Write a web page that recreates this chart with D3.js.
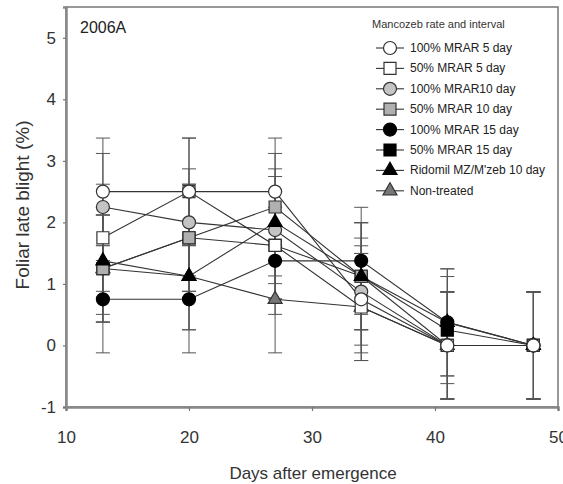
<!DOCTYPE html>
<html><head><meta charset="utf-8">
<script src="https://cdn.jsdelivr.net/npm/d3@7"></script>
<style>body{margin:0;background:#fff}svg{display:block}text{font-family:"Liberation Sans",Arial,sans-serif}</style>
</head><body><svg id="c" width="563" height="484"></svg>
<script>
// ---- data ----
const days = [13, 20, 27, 34, 41, 48];
const seriesNames = ["100% MRAR 5 day", "50% MRAR 5 day", "100% MRAR10 day", "50% MRAR 10 day",
  "100% MRAR 15 day", "50% MRAR 15 day", "Ridomil MZ/M'zeb 10 day", "Non-treated"];
const mrar100d5  = [2.5, 2.5, 2.5, 0.75, 0, 0];
const mrar50d5   = [1.75, 2.5, 1.625, 0.625, 0, 0];
const mrar100d10 = [2.25, 2.0, 1.875, 0.875, 0, 0];
const mrar50d10  = [1.25, 1.75, 2.25, 1.125, 0, 0];
const mrar100d15 = [0.75, 0.75, 1.375, 1.375, 0.375, 0];
const mrar50d15  = [1.25, 1.75, 1.625, 1.125, 0.25, 0];
const ridomil    = [1.375, 1.125, 2.0, 1.125, 0.375, 0];
const nonTreated = [1.25, 1.125, 0.75, 0.625, 0, 0];
const errHalf    = [0.87, 0.87, 0.87, 0.87, 0.87, 0.87];
const yTicks = [-1, 0, 1, 2, 3, 4, 5];
const xTicks = [10, 20, 30, 40, 50];
const legendTitle = "Mancozeb rate and interval";
const panelLabel = "2006A";
const xLabel = "Days after emergence";
const yLabel = "Foliar late blight (%)";

const allSeries = [mrar100d5, mrar50d5, mrar100d10, mrar50d10, mrar100d15, mrar50d15, ridomil, nonTreated];
const shapes = ["circle","square","circle","square","circle","square","triangle","triangle"];
const fills  = ["#fff","#fff","#c4c4c4","#b0b0b0","#000","#000","#000","#777"];
const drawOrder = [5, 7, 3, 2, 1, 6, 4, 0];

const svg = d3.select("#c");
const L = 66, R = 558, T = 7, B = 407;
const x = d3.scaleLinear().domain([10, 50]).range([L, R]);
const y = d3.scaleLinear().domain([-1, 5.5]).range([B, T]);

// frame
svg.append("rect").attr("x", L).attr("y", T).attr("width", R - L).attr("height", B - T)
  .attr("fill", "none").attr("stroke", "#777").attr("stroke-width", 1.5);

// axes
const gx = svg.append("g").attr("transform", `translate(0,${B})`)
  .call(d3.axisBottom(x).tickValues(xTicks).tickFormat(d3.format("d")).tickSize(4).tickPadding(20));
const gy = svg.append("g").attr("transform", `translate(${L},0)`)
  .call(d3.axisLeft(y).tickValues(yTicks).tickFormat(d => d).tickSize(3).tickPadding(7));
[gx, gy].forEach(g => {
  g.select(".domain").attr("stroke", "#888").attr("stroke-width", 2.5);
  g.selectAll(".tick line").attr("stroke", "#777").attr("stroke-width", 1.2);
  g.selectAll(".tick text").attr("fill", "#333").style("font-size", "17px")
    .style("font-family", '"Liberation Sans",Arial,sans-serif');
});

// axis titles
svg.append("text").attr("x", 313).attr("y", 479).attr("text-anchor", "middle")
  .attr("fill", "#333").style("font-size", "17px").text(xLabel);
svg.append("text").attr("transform", "translate(29,205) rotate(-90)").attr("text-anchor", "middle")
  .attr("fill", "#333").style("font-size", "19px").text(yLabel);
svg.append("text").attr("x", 80).attr("y", 33).attr("fill", "#222")
  .style("font-size", "16px").text(panelLabel);

// symbols
const sym = {
  circle: d3.symbol().type(d3.symbolCircle).size(Math.PI * 6.5 * 6.5),
  square: d3.symbol().type(d3.symbolSquare).size(12 * 12),
  triangle: d3.symbol().type(d3.symbolTriangle).size(85)
};
function marker(g, i, cx, cy) {
  g.append("path").attr("d", sym[shapes[i]]()).attr("transform", `translate(${cx},${cy})`)
    .attr("fill", fills[i]).attr("stroke", fills[i] === "#000" ? "#000" : "#333").attr("stroke-width", 1.2);
}

const plot = svg.append("g");
// error bars
drawOrder.forEach(i => {
  allSeries[i].forEach((v, k) => {
    const cx = x(days[k]);
    plot.append("line").attr("x1", cx).attr("x2", cx).attr("y1", y(v - errHalf[k])).attr("y2", y(v + errHalf[k]))
      .attr("stroke", "#555").attr("stroke-width", 1);
    [v - errHalf[k], v + errHalf[k]].forEach(e => plot.append("line").attr("x1", cx - 7).attr("x2", cx + 7)
      .attr("y1", y(e)).attr("y2", y(e)).attr("stroke", "#555").attr("stroke-width", 1));
  });
});
// lines
const line = d3.line().x((d, k) => x(days[k])).y(d => y(d));
drawOrder.forEach(i => {
  plot.append("path").attr("d", line(allSeries[i])).attr("fill", "none").attr("stroke", "#333").attr("stroke-width", 1.1);
});
// markers
drawOrder.forEach(i => {
  allSeries[i].forEach((v, k) => marker(plot, i, x(days[k]), y(v)));
});

// legend
const lg = svg.append("g");
lg.append("text").attr("x", 372).attr("y", 28).attr("fill", "#333").style("font-size", "11px").text(legendTitle);
seriesNames.forEach((n, i) => {
  const cy = 48 + i * 20.4;
  lg.append("line").attr("x1", 376).attr("x2", 404).attr("y1", cy).attr("y2", cy).attr("stroke", "#333").attr("stroke-width", 1.1);
  marker(lg, i, 390, cy);
  lg.append("text").attr("x", 410).attr("y", cy + 4).attr("fill", "#222").style("font-size", "12px").text(n);
});
</script></body></html>
